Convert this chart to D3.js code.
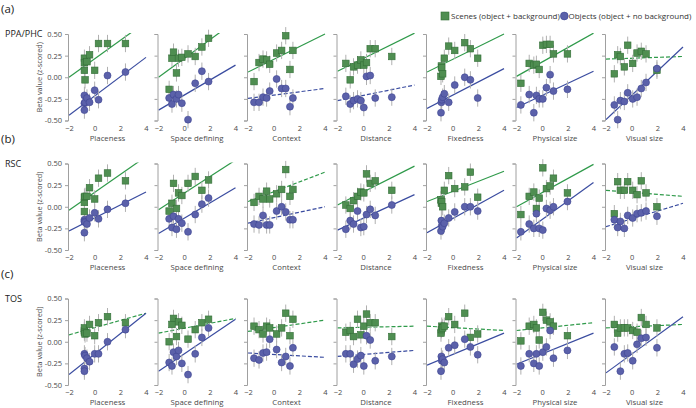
<!DOCTYPE html>
<html><head><meta charset="utf-8">
<script src="https://cdn.jsdelivr.net/npm/d3@7"></script>
<style>html,body{margin:0;padding:0;background:#fff;}svg{display:block;font-family:"Open Sans",sans-serif;}</style>
</head><body><svg id="c" width="696" height="408"></svg>
<script>
const properties = ["Placeness","Space defining","Context","Distance","Fixedness","Physical size","Visual size"];
const regions = ["PPA/PHC","RSC","TOS"];
const rowTags = ["(a)","(b)","(c)"];
const xTicks = [-2,0,2,4];
const yTicks = [0.5,0.25,0,-0.25,-0.5];
const yTickLabels = ["0.50","0.25","0.00","-0.25","-0.50"];
const legendLabels = ["Scenes (object + background)","Objects (object + no background)"];

const xPlaceness = [-0.8,-0.8,-0.8,-0.75,-0.6,-0.4,0.0,0.3,1.0,2.4];
const xSpace = [-1.17,-0.95,-0.83,-0.6,-0.44,-0.18,0.3,0.86,1.38,1.9];
const xContext = [-1.53,-1.14,-0.83,-0.55,-0.31,0.23,0.62,0.94,1.27,1.5];
const xDistance = [-1.35,-1.01,-0.75,-0.44,-0.18,0.05,0.26,0.55,0.94,2.23];
const xFixedness = [-0.91,-0.88,-0.85,-0.78,-0.65,-0.31,0.16,0.94,1.38,1.95];
const xPhysical = [-1.66,-1.01,-0.65,-0.45,-0.23,0.05,0.33,0.62,0.88,1.97];
const xVisual = [-1.35,-1.09,-0.88,-0.57,-0.31,0.08,0.42,0.75,1.12,1.97];

const ppaScenes = [
 [0.22,0.17,0.08,-0.03,0.18,0.26,0.08,0.39,0.39,0.39],
 [-0.14,0.22,0.29,0.05,0.22,0.23,0.27,0.24,0.35,0.45],
 [-0.05,0.17,0.21,0.2,0.15,0.28,0.31,0.48,0.09,0.31],
 [0.16,-0.03,0.12,0.14,0.2,0.14,0.17,0.33,0.33,0.24],
 [0.01,0.13,0.11,0.04,0.22,0.36,0.31,0.4,0.33,0.22],
 [-0.07,0.16,0.14,0.15,0.09,0.37,0.38,0.38,0.27,0.27],
 [0.04,0.26,0.24,0.12,0.37,0.16,0.28,0.3,0.27,0.08]];
const ppaObjects = [
 [-0.21,-0.3,-0.38,-0.29,-0.24,-0.29,-0.15,-0.26,0.02,0.06],
 [-0.24,-0.31,-0.2,-0.25,-0.2,-0.3,-0.49,-0.07,0.07,-0.05],
 [-0.29,-0.29,-0.23,-0.24,-0.16,-0.02,-0.13,-0.13,-0.34,-0.24],
 [-0.22,-0.31,-0.27,-0.25,-0.27,-0.35,0.01,0.02,-0.24,-0.23],
 [-0.41,-0.29,-0.26,-0.23,-0.19,-0.29,-0.09,0.0,-0.03,-0.24],
 [-0.32,-0.2,-0.41,-0.21,-0.25,-0.25,-0.12,0.03,-0.16,-0.14],
 [-0.32,-0.49,-0.27,-0.28,-0.18,-0.25,-0.23,-0.13,-0.06,0.1]];
const rscScenes = [
 [-0.055,0.05,0.11,0.12,0.12,0.22,0.09,0.33,0.39,0.3],
 [-0.05,0.04,0.27,-0.02,0.16,0.13,0.27,0.35,0.19,0.31],
 [0.05,0.12,0.09,0.18,0.09,0.15,0.2,0.43,0.12,0.2],
 [0.02,-0.02,0.07,0.12,0.17,0.16,0.38,0.27,0.3,0.19],
 [0.08,0.04,0.06,0.0,0.19,0.36,0.21,0.23,0.4,0.11],
 [-0.09,0.12,0.17,-0.02,0.1,0.45,0.21,0.24,0.33,0.16],
 [-0.08,0.29,0.19,0.19,0.29,0.19,0.14,0.3,0.16,0.0]];
const rscObjects = [
 [-0.3,-0.15,-0.17,-0.18,-0.2,-0.13,-0.07,-0.14,-0.03,0.04],
 [-0.14,-0.24,-0.11,-0.26,-0.14,-0.19,-0.29,-0.09,0.03,0.1],
 [-0.2,-0.21,-0.1,-0.21,-0.21,-0.05,0.0,-0.06,-0.15,-0.15],
 [-0.26,-0.16,-0.2,-0.05,-0.24,-0.23,-0.09,-0.03,-0.1,0.02],
 [-0.28,-0.16,-0.22,-0.23,-0.19,-0.13,-0.06,0.0,0.0,-0.05],
 [-0.29,-0.2,-0.25,-0.08,-0.25,-0.27,-0.02,-0.04,0.0,0.06],
 [-0.15,-0.24,-0.17,-0.25,-0.1,-0.13,-0.08,-0.07,-0.05,-0.11]];
const tosScenes = [
 [0.13,0.16,0.11,0.09,0.1,0.2,0.07,0.22,0.29,0.22],
 [0.0,0.2,0.27,0.06,0.23,0.19,0.03,0.14,0.22,0.26],
 [0.18,0.14,0.09,0.18,0.16,0.09,0.16,0.33,0.07,0.26],
 [0.11,0.13,0.06,0.26,0.08,0.18,0.32,0.22,0.22,0.06],
 [0.1,0.14,0.18,0.16,0.18,0.29,0.2,0.33,0.05,0.09],
 [0.01,0.18,0.2,0.16,0.02,0.34,0.25,0.23,0.18,0.07],
 [0.2,0.1,0.16,0.16,0.16,0.13,0.11,0.28,0.2,0.16]];
const tosObjects = [
 [-0.14,-0.31,-0.34,-0.16,-0.19,-0.23,-0.14,-0.14,0.0,0.14],
 [-0.24,-0.28,-0.12,-0.17,-0.1,-0.25,-0.38,-0.14,0.05,0.16],
 [-0.19,-0.21,-0.13,-0.12,0.03,-0.09,-0.24,-0.17,-0.28,-0.07],
 [-0.14,-0.14,-0.26,-0.2,-0.16,-0.28,0.07,0.02,-0.22,-0.17],
 [-0.34,-0.17,-0.22,-0.2,-0.24,-0.07,-0.04,0.03,-0.06,-0.15],
 [-0.28,-0.14,-0.25,-0.14,-0.28,-0.12,-0.06,0.13,-0.19,-0.1],
 [-0.06,null,-0.34,-0.14,-0.13,-0.22,-0.03,0.04,0.05,-0.07]];

// fit lines: [value at x=-2, value at x=4, significant(1)=solid / 0=dashed]
const ppaSceneFit = [[0.0,0.64,1],[0.0,0.65,1],[0.06,0.5,1],[0.07,0.51,1],[0.06,0.5,1],[0.01,0.51,1],[0.21,0.24,0]];
const ppaObjectFit = [[-0.44,0.23,1],[-0.38,0.14,1],[-0.245,-0.13,0],[-0.27,-0.09,0],[-0.36,0.1,1],[-0.35,0.07,1],[-0.49,0.35,1]];
const rscSceneFit = [[-0.04,0.58,1],[-0.035,0.54,1],[0.06,0.4,0],[0.02,0.47,1],[0.06,0.41,1],[0.0,0.49,1],[0.19,0.12,0]];
const rscObjectFit = [[-0.28,0.17,1],[-0.31,0.22,1],[-0.19,0.0,0],[-0.27,0.14,1],[-0.3,0.19,1],[-0.36,0.28,1],[-0.23,0.04,0]];
const tosSceneFit = [[0.08,0.33,0],[0.1,0.27,0],[0.12,0.25,0],[0.16,0.18,0],[0.18,0.13,0],[0.13,0.22,0],[0.16,0.2,0]];
const tosObjectFit = [[-0.38,0.33,1],[-0.34,0.26,1],[-0.13,-0.18,0],[-0.17,-0.1,0],[-0.27,0.1,1],[-0.26,0.1,1],[-0.36,0.29,1]];
const SE = 0.1;

const xValues = [xPlaceness,xSpace,xContext,xDistance,xFixedness,xPhysical,xVisual];
const sceneData = [ppaScenes,rscScenes,tosScenes];
const objectData = [ppaObjects,rscObjects,tosObjects];
const sceneFits = [ppaSceneFit,rscSceneFit,tosSceneFit];
const objectFits = [ppaObjectFit,rscObjectFit,tosObjectFit];

const C = {green:"#4f8e51", greenStroke:"#336e37", greenLine:"#2f9a4a",
           blue:"#5b61aa", blueStroke:"#3e4592", blueLine:"#3a4ca0",
           err:"#b0b0b0", axis:"#a0a0a0", text:"#4a4a4a"};

const svg = d3.select("#c");
const PX0 = 69, PSTEP = 89.5, PW = 77;
const rowTop = [34, 163.5, 298.5], PH = 86.5;

const defs = svg.append("defs");

regions.forEach((reg, r) => {
  const top = rowTop[r];
  const y = d3.scaleLinear().domain([-0.5,0.5]).range([top+PH, top]);
  svg.append("text").attr("x",1).attr("y",top-21).attr("font-size",11.5).attr("fill","#222").text(rowTags[r]);
  svg.append("text").attr("x",5).attr("y",top+3).attr("font-size",9).attr("fill","#222").text(reg);
  svg.append("text").attr("transform",`translate(42,${top+PH/2}) rotate(-90)`)
     .attr("text-anchor","middle").attr("font-size",7.3).attr("fill",C.text).text("Beta value (z-scored)");

  properties.forEach((prop, p) => {
    const left = PX0 + p*PSTEP;
    const x = d3.scaleLinear().domain([-2,4]).range([left, left+PW]);
    const g = svg.append("g");
    const cid = `clip${r}_${p}`;
    defs.append("clipPath").attr("id",cid).append("rect")
      .attr("x",left).attr("y",top-1).attr("width",PW+1).attr("height",PH+2);

    const ya = d3.axisLeft(y).tickValues(yTicks).tickSize(3)
      .tickFormat((d,i)=> p===0 ? yTickLabels[i] : "");
    const yg = g.append("g").attr("transform",`translate(${left-1},0)`).call(ya);
    yg.select(".domain").attr("stroke",C.axis);
    yg.selectAll(".tick line").attr("stroke",C.axis);
    yg.selectAll(".tick text").attr("font-size",7.5).attr("fill",C.text).attr("font-family","Open Sans");

    const xa = d3.axisBottom(x).tickValues(xTicks).tickSize(0).tickPadding(4).tickFormat(d3.format("d"));
    const xg = g.append("g").attr("transform",`translate(0,${top+PH+1})`).call(xa);
    xg.select(".domain").remove();
    xg.selectAll(".tick text").attr("font-size",7.5).attr("fill",C.text).attr("font-family","Open Sans");
    g.append("text").attr("x",left+PW/2).attr("y",top+PH+20).attr("text-anchor","middle")
      .attr("font-size",7.8).attr("fill",C.text).text(prop);

    const fits = [[sceneFits[r][p], C.greenLine],[objectFits[r][p], C.blueLine]];
    fits.forEach(([f,col]) => {
      g.append("line").attr("clip-path",`url(#${cid})`)
        .attr("x1",x(-2)).attr("y1",y(f[0])).attr("x2",x(4)).attr("y2",y(f[1]))
        .attr("stroke",col).attr("stroke-width",1.2)
        .attr("stroke-dasharray", f[2] ? null : "4,2");
    });

    const xs = xValues[p];
    const sc = xs.map((v,i)=>({x:v,y:sceneData[r][p][i]})).filter(d=>d.y!==null);
    const ob = xs.map((v,i)=>({x:v,y:objectData[r][p][i]})).filter(d=>d.y!==null);
    g.selectAll(null).data(sc.concat(ob)).join("line")
      .attr("x1",d=>x(d.x)).attr("x2",d=>x(d.x))
      .attr("y1",d=>y(d.y-SE)).attr("y2",d=>y(d.y+SE))
      .attr("stroke",C.err).attr("stroke-width",1);
    g.selectAll(null).data(sc).join("rect")
      .attr("x",d=>x(d.x)-3.3).attr("y",d=>y(d.y)-3.3).attr("width",6.6).attr("height",6.6)
      .attr("fill",C.green).attr("stroke",C.greenStroke).attr("stroke-width",0.6);
    g.selectAll(null).data(ob).join("circle")
      .attr("cx",d=>x(d.x)).attr("cy",d=>y(d.y)).attr("r",3.5)
      .attr("fill",C.blue).attr("stroke",C.blueStroke).attr("stroke-width",0.6);
  });
});

const lg = svg.append("g");
lg.append("rect").attr("x",441).attr("y",12).attr("width",8).attr("height",8)
  .attr("fill",C.green).attr("stroke",C.greenStroke).attr("stroke-width",0.6);
lg.append("text").attr("x",451).attr("y",19).attr("font-size",8).attr("fill","#333").text(legendLabels[0]);
lg.append("circle").attr("cx",564.3).attr("cy",16).attr("r",3.9)
  .attr("fill",C.blue).attr("stroke",C.blueStroke).attr("stroke-width",0.6);
lg.append("text").attr("x",568.5).attr("y",19).attr("font-size",8).attr("fill","#333").text(legendLabels[1]);
</script></body></html>
